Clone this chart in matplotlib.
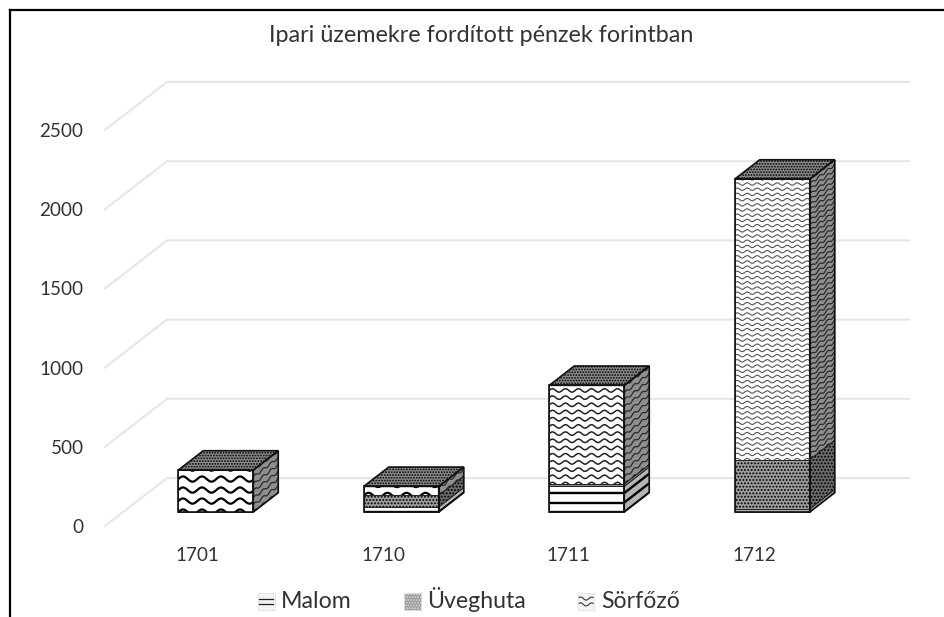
import numpy as np
import matplotlib
matplotlib.use("Agg")
import matplotlib.pyplot as plt
from matplotlib.patches import Polygon, Patch, Rectangle
from matplotlib.collections import LineCollection
from matplotlib.legend_handler import HandlerBase
from matplotlib.lines import Line2D

plt.rcParams['font.family'] = ['Lato', 'DejaVu Sans']
plt.rcParams['hatch.linewidth'] = 0.9

years = ['1701', '1710', '1711', '1712']
malom = [0, 32, 162, 20]
uveghuta = [0, 73, 15, 311]
sorfozo = [265, 57, 623, 1771]
series_names = ['Malom', 'Üveghuta', 'Sörfőző']
yticks = [0, 500, 1000, 1500, 2000, 2500]
title = 'Ipari üzemekre fordított pénzek forintban'

W, H = 944, 617
TXT = '#333333'
GRID = '#E6E6E6'
fig = plt.figure(figsize=(W / 100, H / 100), dpi=100, facecolor='white')
L, R, T, B = 105, 847, 130, 526
ax = fig.add_axes([L / W, 1 - B / H, (R - L) / W, (B - T) / H])
ax.set_xlim(-0.5, 3.5)
ax.set_ylim(0, 2500)
for s in ax.spines.values():
    s.set_visible(False)
ax.patch.set_alpha(0)

PX_X = (R - L) / 4        # pixels per category
PX_Y = (B - T) / 2500     # pixels per value unit
DX, DY = 62, 48           # depth of the floor, pixels
BAR_W = 75 / PX_X
D0, D1 = 18 / 62, 43 / 62  # depth range of the bars


def proj(x, v, d):
    return (x + d * DX / PX_X, v + d * DY / PX_Y)


ax.set_xticks(range(4), years, fontsize=13.6, color=TXT)
ax.set_yticks(yticks, [str(t) for t in yticks], fontsize=13.6, color=TXT)
ax.tick_params(axis='both', length=0)
ax.tick_params(axis='y', pad=15.5)
ax.tick_params(axis='x', pad=15)
ax.set_title(title, fontsize=16.8, color=TXT, pad=63, x=(481.5 - L) / (R - L))

# walls: gridlines
for t in yticks:
    a, b, c = proj(-0.5, t, 0), proj(-0.5, t, 1), proj(3.5, t, 1)
    ax.plot([a[0], b[0], c[0]], [a[1], b[1], c[1]], color=GRID, lw=1.5,
            clip_on=False, zorder=1, solid_joinstyle='miter')


def add_poly(pts, fc, z, hatch=None):
    p = Polygon(pts, closed=True, facecolor=fc, edgecolor='black' if hatch else 'none',
                lw=0, hatch=hatch, clip_on=False, zorder=z)
    ax.add_patch(p)
    return p


def rows(poly, kind, x0, x1, v0, v1, period, spacing, amp, lw, slope=0.0, color='black', z=3):
    """Texture lines clipped to a face; sizes in pixels, slope in px/px (upwards)."""
    npx = max(2, int(abs(x1 - x0) * PX_X * 2))
    xs = np.linspace(x0, x1, npx)
    px = (xs - x0) * PX_X
    start = v0 * PX_Y - spacing * int(30 / spacing + 1)
    h1 = v1 * PX_Y + 30
    segs = []
    for h in np.arange(start, h1, spacing):
        wob = amp * np.sin(2 * np.pi * px / period) if kind == 'wave' else 0 * px
        segs.append(np.column_stack([xs, (h + wob + px * slope) / PX_Y]))
    lc = LineCollection(segs, colors=color, linewidths=lw, zorder=z)
    ax.add_collection(lc)
    lc.set_clip_path(poly)


wave_style = {0: (19, 11, 2.6, 1.6, 'black'), 1: (19, 11, 2.6, 1.6, 'black'),
              2: (13, 7.2, 1.7, 1.1, '#222222'), 3: (10, 5.2, 1.2, 0.8, '#555555')}
slope = DY / DX

for i, yr in enumerate(years):
    x0, x1 = i - BAR_W / 2, i + BAR_W / 2
    stack = [('malom', malom[i]), ('uveghuta', uveghuta[i]), ('sor', sorfozo[i])]
    period, spacing, amp, lw, wcol = wave_style[i]
    base = 0.0
    for name, val in stack:
        if val <= 0:
            continue
        top = base + val
        f = [proj(x0, base, D0), proj(x1, base, D0), proj(x1, top, D0), proj(x0, top, D0)]
        s = [proj(x1, base, D0), proj(x1, base, D1), proj(x1, top, D1), proj(x1, top, D0)]
        fx0, fx1 = f[0][0], f[1][0]
        sx0, sx1 = s[0][0], s[1][0]
        if name == 'malom':
            if val < 25:
                fp = add_poly(f, '#B0B0B0', 2)
                sp = add_poly(s, '#999999', 2)
            else:
                fp = add_poly(f, 'white', 2)
                sp = add_poly(s, '#B5B5B5', 2)
                rows(fp, 'line', fx0, fx1, f[0][1], f[2][1], 1, 9.5, 0, 1.7)
                rows(sp, 'line', sx0, sx1, s[0][1], s[2][1], 1, 9.5, 0, 1.7, slope)
        elif name == 'uveghuta':
            if val < 25:
                fp = add_poly(f, '#8A8A8A', 2)
                sp = add_poly(s, '#8A8A8A', 2)
            else:
                fp = add_poly(f, '#9C9C9C', 2, hatch='.....')
                sp = add_poly(s, '#6A6A6A', 2, hatch='.....')
        else:
            fp = add_poly(f, 'white', 2)
            sp = add_poly(s, '#8E8E8E', 2)
            rows(fp, 'wave', fx0, fx1, f[0][1], f[2][1], period, spacing, amp, lw, color=wcol)
            rows(sp, 'wave', sx0, sx1, s[0][1], s[2][1], 8, min(spacing, 7), 1.2, 0.9, slope, color='#2A2A2A')
        for pts in (f, s):
            ax.add_patch(Polygon(pts, closed=True, fill=False, edgecolor='#222222', lw=0.6,
                                 clip_on=False, zorder=4, joinstyle='miter'))
        base = top
    t = [proj(x0, base, D0), proj(x1, base, D0), proj(x1, base, D1), proj(x0, base, D1)]
    add_poly(t, '#8C8C8C', 2, hatch='......')
    # outline of the whole bar
    f = [proj(x0, 0, D0), proj(x1, 0, D0), proj(x1, base, D0), proj(x0, base, D0)]
    s = [proj(x1, 0, D0), proj(x1, 0, D1), proj(x1, base, D1), proj(x1, base, D0)]
    for pts in (f, s, t):
        ax.add_patch(Polygon(pts, closed=True, fill=False, edgecolor='#111111', lw=1.2,
                             clip_on=False, zorder=5, joinstyle='miter'))


class SwatchHandler(HandlerBase):
    def __init__(self, kind):
        super().__init__()
        self.kind = kind

    def create_artists(self, legend, orig, xd, yd, w, h, fs, trans):
        x = -xd
        y = -yd - 1
        arts = []
        rect = Rectangle((x, y), 12, 12, facecolor='#F4F4F4' if self.kind != 'dots' else '#9A9A9A',
                         edgecolor='#DDDDDD', lw=0.5, transform=trans,
                         hatch='......' if self.kind == 'dots' else None)
        arts.append(rect)
        if self.kind == 'lines':
            for f in (0.36, 0.68):
                arts.append(Line2D([x + 1, x + 11], [y + 12 * f] * 2, color='#222222', lw=0.9, transform=trans))
        if self.kind == 'wave':
            xs = np.linspace(x + 1, x + 11, 30)
            for f in (0.33, 0.68):
                arts.append(Line2D(xs, y + 12 * f + 1.1 * np.sin((xs - x) * 2 * np.pi / 8), color='#333333', lw=0.8, transform=trans))
        return arts


handles = [Patch(label=n) for n in series_names]
leg = fig.legend(handles, series_names, loc='center left', bbox_to_anchor=(258 / W, 1 - 600 / H),
                 ncol=3, frameon=False, fontsize=16.7, labelcolor=TXT, handlelength=0.72,
                 handletextpad=0.27, columnspacing=2.25, borderpad=0, borderaxespad=0,
                 handler_map={handles[0]: SwatchHandler('lines'), handles[1]: SwatchHandler('dots'),
                              handles[2]: SwatchHandler('wave')})

# picture frame: top and left edges only
for xs, ys in (([10, 10], [H, 10]), ([10, W], [10, 10])):
    fig.add_artist(Line2D([v / W for v in xs], [1 - v / H for v in ys], color='black', lw=1.6,
                          transform=fig.transFigure))

fig.savefig('out.png', dpi=100)
